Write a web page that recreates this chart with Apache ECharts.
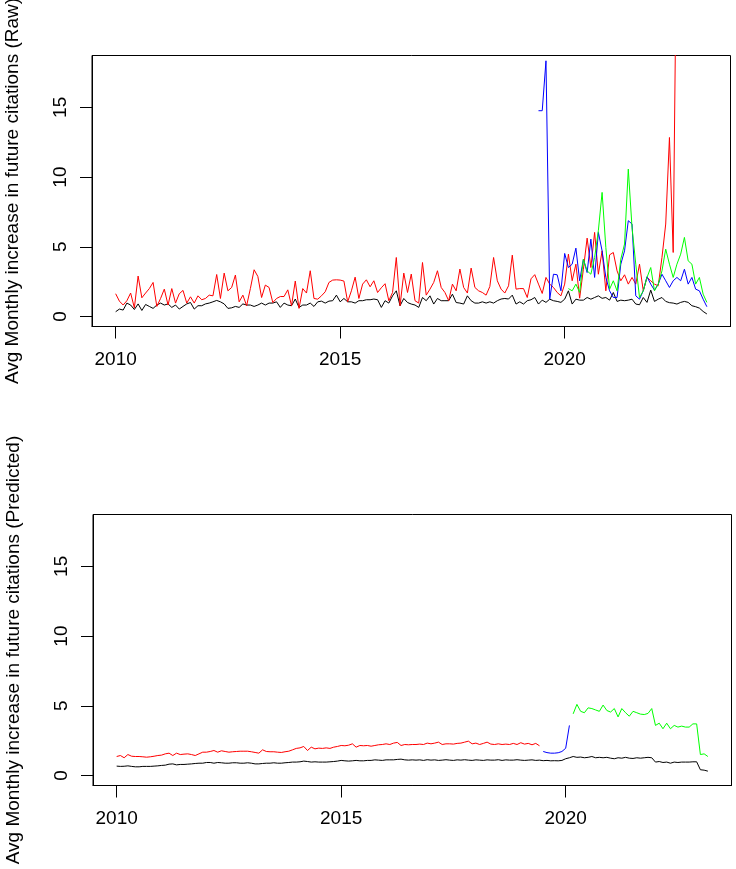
<!DOCTYPE html>
<html><head><meta charset="utf-8">
<script src="https://cdn.jsdelivr.net/npm/echarts@6/dist/echarts.min.js"></script>
<style>html,body{margin:0;padding:0;background:#fff}#c{width:736px;height:869px}</style>
</head><body><div id="c"></div>
<script>
// ---------- data ----------
const START_YEAR = 2010;              // month offset 0 = Jan 2010
const xTickLabels = [2010, 2015, 2020];
const yTickLabels = [0, 5, 10, 15];
const rawTitle = 'Avg Monthly increase in future citations (Raw)';
const predTitle = 'Avg Monthly increase in future citations (Predicted)';

// Raw panel (month offsets of first value)
const rawBlackStart = 0;
const rawBlack = [0.34,0.53,0.46,0.96,0.82,0.5,0.9,0.43,0.86,0.72,0.58,0.82,0.96,0.82,0.9,0.65,0.82,0.53,0.72,0.9,1.0,0.53,0.77,0.77,0.9,0.96,1.05,1.15,1.05,0.9,0.58,0.62,0.72,0.65,0.9,0.82,
  0.82,0.72,0.82,0.96,0.82,0.96,0.96,1.05,0.65,0.96,0.82,0.77,1.25,0.65,0.82,0.82,0.96,0.72,1.05,1.1,0.96,1.1,1.13,1.53,1.05,1.29,1.05,1.05,0.96,1.13,1.13,1.2,1.2,1.25,1.2,0.65,1.13,0.96,
  1.48,1.84,0.77,1.29,1.0,0.89,0.82,0.65,1.36,1.13,1.48,0.89,1.29,1.13,1.13,1.13,1.6,1.0,0.96,0.89,1.48,1.13,0.96,0.96,1.05,0.96,1.05,0.96,1.13,1.25,1.29,1.25,1.53,0.89,1.05,0.89,1.13,
  1.2,1.36,0.89,1.17,1.01,1.24,1.13,1.08,1.01,1.24,1.84,0.89,1.24,1.17,1.17,1.36,1.24,1.36,1.48,1.3,1.36,1.17,1.72,1.08,1.17,1.13,1.17,1.24,0.89,0.84,1.36,1.01,1.89,1.08,1.24,1.36,1.08,0.99,0.96,0.89,1.01,1.08,1.01,0.77,0.7,0.6,0.36,0.18];
const rawRedStart = 0;
const rawRed = [1.63,1.1,0.82,1.13,1.68,0.62,2.9,1.34,1.68,2.0,2.44,0.72,1.29,1.96,0.82,2.0,0.96,1.63,1.87,0.96,1.41,0.96,1.48,1.2,1.29,1.53,1.48,3.01,1.29,3.11,1.84,2.08,2.97,1.05,1.53,0.77,
  2.0,3.35,2.87,1.36,2.25,2.08,1.0,1.29,1.43,1.43,1.91,0.77,2.54,0.58,2.0,1.68,3.28,1.29,1.24,1.48,1.77,2.44,2.61,2.63,2.61,2.54,1.05,1.84,2.82,1.29,2.32,2.63,2.13,2.56,1.72,2.06,2.35,1.13,
  1.72,4.23,0.77,3.11,1.72,3.04,1.13,0.96,3.87,1.53,1.96,2.44,3.28,2.08,1.72,1.13,2.32,1.84,3.4,2.08,1.68,3.47,2.08,1.84,1.72,1.53,2.15,4.23,2.56,1.96,1.68,2.2,4.4,1.96,2.0,2.0,1.36,2.7,3.0,
  2.32,1.65,2.8,2.32,2.08,1.72,1.48,2.32,4.47,2.56,3.75,1.31,3.39,5.62,3.51,6.03,3.03,4.71,1.84,4.42,4.59,3.27,2.56,2.99,2.32,2.8,2.32,3.75,1.84,2.8,2.56,2.32,2.2,4.23,6.63,12.84,4.59,30];
const rawBlueStart = 113;
const rawBlue = [14.76,14.76,18.34,1.24,3.03,2.99,1.84,4.52,3.51,3.75,4.9,2.56,4.11,3.15,5.55,2.8,6.03,4.71,2.8,1.84,1.36,1.36,3.75,4.71,6.87,6.63,1.48,1.24,1.84,2.85,2.32,1.89,2.32,3.03,2.56,2.08,2.56,2.8,2.56,3.39,2.32,2.8,1.96,1.84,1.24,0.7];
const rawGreenStart = 121;
const rawGreen = [2.0,1.84,2.32,1.72,4.11,3.27,3.03,4.23,6.15,8.9,4.95,1.96,2.56,1.84,4.11,5.2,10.57,6.39,3.75,1.36,1.84,2.8,3.51,1.84,2.32,3.27,4.83,3.75,2.8,3.75,4.47,5.67,3.99,3.75,2.32,2.8,1.6,1.01];

// Predicted panel
const predBlackStart = 0;
const predBlack = [0.67,0.65,0.66,0.69,0.65,0.62,0.62,0.65,0.65,0.65,0.67,0.69,0.72,0.74,0.81,0.83,0.76,0.79,0.79,0.81,0.83,0.86,0.88,0.88,0.93,0.93,0.88,0.93,0.91,0.88,0.88,0.91,0.91,0.88,0.88,0.91,0.88,0.83,0.83,0.86,
  0.88,0.88,0.91,0.88,0.88,0.91,0.93,0.96,0.96,0.98,1.03,1.0,0.96,0.98,0.96,0.96,0.96,0.98,1.0,1.03,1.08,1.05,1.03,1.05,1.08,1.05,1.05,1.08,1.08,1.12,1.1,1.08,1.12,1.12,1.12,1.15,1.17,1.12,1.1,1.12,
  1.1,1.12,1.08,1.13,1.1,1.12,1.08,1.1,1.13,1.1,1.08,1.12,1.1,1.13,1.1,1.08,1.12,1.1,1.08,1.12,1.1,1.1,1.13,1.08,1.12,1.1,1.1,1.13,1.1,1.08,1.1,1.12,1.08,1.1,1.06,1.08,1.05,1.06,1.05,1.08,
  1.2,1.27,1.36,1.3,1.32,1.27,1.3,1.36,1.27,1.3,1.27,1.3,1.24,1.2,1.27,1.24,1.3,1.24,1.22,1.27,1.24,1.27,1.3,1.27,
  0.96,1.0,0.93,0.96,0.88,0.96,0.93,0.96,0.96,0.96,0.98,0.98,0.41,0.38,0.31];
const predRedStart = 0;
const predRed = [1.36,1.43,1.27,1.5,1.38,1.36,1.36,1.34,1.31,1.34,1.38,1.43,1.46,1.55,1.6,1.43,1.6,1.5,1.53,1.55,1.5,1.43,1.55,1.67,1.67,1.72,1.79,1.67,1.77,1.72,1.67,1.7,1.72,1.74,1.74,1.74,1.7,1.65,1.6,1.84,
  1.72,1.7,1.7,1.67,1.65,1.7,1.74,1.84,1.94,1.98,2.08,1.79,2.03,1.91,1.96,1.94,1.98,1.94,2.03,2.08,2.15,2.13,2.17,2.27,2.03,2.15,2.13,2.15,2.1,2.15,2.2,2.22,2.27,2.22,2.32,2.37,2.15,2.22,2.2,2.22,
  2.22,2.25,2.22,2.32,2.27,2.32,2.39,2.22,2.27,2.27,2.25,2.3,2.32,2.39,2.46,2.27,2.32,2.22,2.3,2.39,2.25,2.22,2.27,2.22,2.25,2.22,2.3,2.22,2.35,2.25,2.3,2.2,2.3,2.13];
const predBlueStart = 114;
const predBlue = [1.72,1.64,1.6,1.6,1.63,1.72,1.95,3.59];
const predGreenStart = 122;
const predGreen = [4.42,5.1,4.6,4.5,4.85,4.8,4.7,4.6,5.05,4.66,4.55,4.8,4.2,4.8,4.5,4.25,4.6,4.5,4.4,4.37,4.45,4.8,3.59,3.75,3.35,3.75,3.35,3.59,3.47,3.54,3.47,3.47,3.7,3.7,1.5,1.55,1.36];

// ---------- chart ----------
function monthly(offset, vals) {
  return vals.map((v, k) => [START_YEAR + (offset + k) / 12, v]);
}
const FONT = 'Liberation Sans, Arial, sans-serif';
const X_MIN = 2009.473, X_MAX = 2023.693, Y_MIN = -0.72, Y_MAX = 18.72;

function xAxisDef(gi) {
  return {
    type: 'value', gridIndex: gi, min: X_MIN, max: X_MAX,
    axisLine: { show: true, onZero: false, lineStyle: { color: '#000', width: 1 } },
    axisTick: { show: true, length: 12, customValues: xTickLabels, lineStyle: { color: '#000', width: 1 } },
    axisLabel: { show: true, customValues: xTickLabels, margin: 24, fontSize: 19, color: '#000', fontFamily: FONT,
      formatter: v => String(v) },
    splitLine: { show: false }
  };
}
function yAxisDef(gi, title) {
  return {
    type: 'value', gridIndex: gi, min: Y_MIN, max: Y_MAX,
    name: title, nameLocation: 'middle', nameRotate: 90, nameGap: 70,
    nameTextStyle: { fontSize: 19, color: '#000', fontFamily: FONT },
    axisLine: { show: true, onZero: false, lineStyle: { color: '#000', width: 1 } },
    axisTick: { show: true, length: 12, customValues: yTickLabels, lineStyle: { color: '#000', width: 1 } },
    axisLabel: { show: true, customValues: yTickLabels, rotate: 90, margin: 22, fontSize: 19, color: '#000', fontFamily: FONT,
      formatter: v => String(v) },
    splitLine: { show: false }
  };
}
function line(gi, data, color) {
  return {
    type: 'line', xAxisIndex: gi, yAxisIndex: gi, data: data, showSymbol: false, symbol: 'none',
    clip: true, silent: true, animation: false,
    lineStyle: { color: color, width: 1 }, itemStyle: { color: color }
  };
}

const chart = echarts.init(document.getElementById('c'), null, { renderer: 'canvas' });
chart.setOption({
  backgroundColor: '#fff',
  animation: false,
  grid: [
    { left: 92, top: 55.5, width: 638.5, height: 271, outerBoundsMode: 'none', containLabel: false, show: true, borderColor: '#000', borderWidth: 1, backgroundColor: 'transparent' },
    { left: 93, top: 514.5, width: 638.5, height: 271, outerBoundsMode: 'none', containLabel: false, show: true, borderColor: '#000', borderWidth: 1, backgroundColor: 'transparent' }
  ],
  xAxis: [xAxisDef(0), xAxisDef(1)],
  yAxis: [yAxisDef(0, rawTitle), yAxisDef(1, predTitle)],
  series: [
    line(0, monthly(rawBlackStart, rawBlack), '#000000'),
    line(0, monthly(rawRedStart, rawRed), '#FF0000'),
    line(0, monthly(rawBlueStart, rawBlue), '#0000FF'),
    line(0, monthly(rawGreenStart, rawGreen), '#00FF00'),
    line(1, monthly(predBlackStart, predBlack), '#000000'),
    line(1, monthly(predRedStart, predRed), '#FF0000'),
    line(1, monthly(predBlueStart, predBlue), '#0000FF'),
    line(1, monthly(predGreenStart, predGreen), '#00FF00')
  ]
});
</script></body></html>
